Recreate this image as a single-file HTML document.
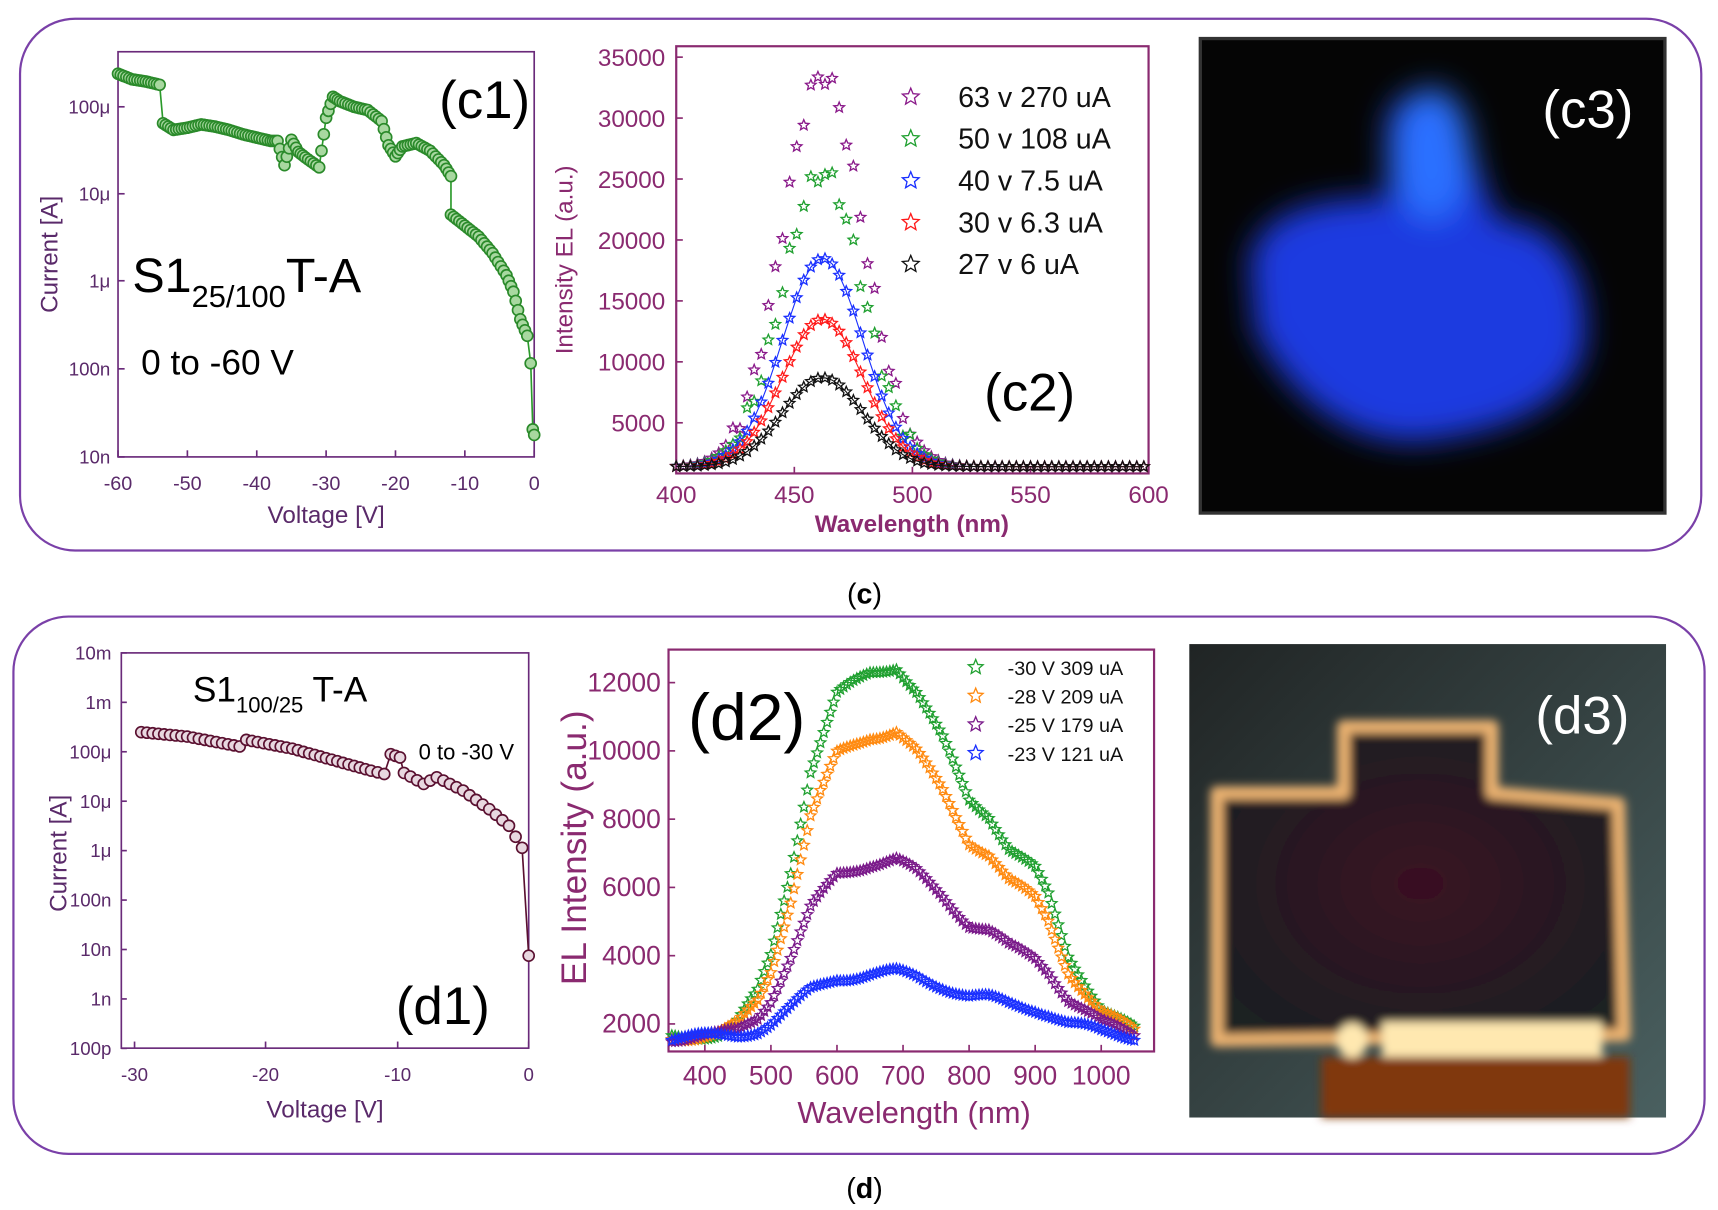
<!DOCTYPE html>
<html><head><meta charset="utf-8">
<style>
html,body{margin:0;padding:0;background:#fff;}
svg{display:block}
text{font-family:"Liberation Sans",sans-serif}
</style></head>
<body>
<svg id="s" width="1718" height="1210" viewBox="0 0 1560 1099" xmlns="http://www.w3.org/2000/svg">
<defs>
<filter id="bz" x="-20%" y="-20%" width="140%" height="140%"><feGaussianBlur stdDeviation="4"/></filter>
<filter id="bz2" x="-30%" y="-30%" width="160%" height="160%"><feGaussianBlur stdDeviation="14"/></filter>
<radialGradient id="dk" cx="0.5" cy="0.5" r="0.6">
<stop offset="0" stop-color="#3a1020"/><stop offset="1" stop-color="#1a2020"/>
</radialGradient>
<linearGradient id="d3bg" x1="0" y1="0" x2="1" y2="1">
<stop offset="0" stop-color="#202424"/><stop offset="1" stop-color="#4a6060"/>
</linearGradient>
</defs>
<rect x="18" y="17" width="1527" height="483" rx="50" fill="none" stroke="#7a40a8" stroke-width="2"/>
<rect x="12" y="560" width="1536" height="488" rx="50" fill="none" stroke="#7a40a8" stroke-width="2"/>
<text x="785" y="548" font-family="Liberation Serif" font-size="26" text-anchor="middle">(<tspan font-weight="bold">c</tspan>)</text>
<text x="785" y="1088" font-family="Liberation Serif" font-size="26" text-anchor="middle">(<tspan font-weight="bold">d</tspan>)</text>

<!-- c3 -->
<rect x="1090" y="35" width="422" height="431" fill="#050505" stroke="#333" stroke-width="3"/>
<g filter="url(#bz2)">
<path d="M1135,240 C1140,190 1200,180 1260,180 L1260,110 C1270,70 1320,80 1340,150 L1360,200 C1410,200 1440,240 1440,300 C1440,360 1380,390 1300,400 C1230,410 1170,360 1140,300 Z" fill="#1a3ae0"/>
<ellipse cx="1300" cy="140" rx="35" ry="60" fill="#2a70ff"/>
</g>
<text x="1442" y="116" font-family="Liberation Serif" font-size="48" fill="#fff" text-anchor="middle">(c3)</text>

<!-- d3 -->
<rect x="1080" y="585" width="433" height="430" fill="url(#d3bg)"/>
<g filter="url(#bz)">
<path d="M1105,720 L1220,720 L1220,660 L1355,660 L1355,720 L1470,730 L1475,940 L1105,945 Z" fill="url(#dk)" stroke="#e8b070" stroke-width="12" stroke-linejoin="round"/>
<rect x="1200" y="960" width="280" height="55" fill="#803810"/>
<rect x="1255" y="928" width="200" height="32" fill="#ffe8b0"/>
<ellipse cx="1228" cy="945" rx="14" ry="16" fill="#ffe8b0"/>
</g>
<text x="1437" y="666" font-family="Liberation Serif" font-size="48" fill="#fff" text-anchor="middle">(d3)</text>

<g id="g"></g>
</svg>
<script>
const g=document.getElementById('g');let h='';
function T(x,y,t,o){o=o||{};h+=`<text x="${x}" y="${y}" font-size="${o.s||20}" fill="${o.c||'#5a2a6a'}" text-anchor="${o.a||'middle'}" ${o.w?'font-weight="bold"':''} ${o.f?'font-family="'+o.f+'"':''} ${o.t?'transform="'+o.t+'"':''}>${t}</text>`;}
function L(x1,y1,x2,y2,c,w){h+=`<line x1="${x1}" y1="${y1}" x2="${x2}" y2="${y2}" stroke="${c}" stroke-width="${w||1.5}"/>`;}
function star(x,y,c,r){r=r||5;let p=[];for(let i=0;i<10;i++){let a=-Math.PI/2+i*Math.PI/5,rr=i%2?r*0.45:r;p.push((x+rr*Math.cos(a)).toFixed(1)+','+(y+rr*Math.sin(a)).toFixed(1));}h+=`<polygon points="${p.join(' ')}" fill="none" stroke="${c}" stroke-width="1.2"/>`;}
function circ(x,y,c,f){h+=`<circle cx="${x}" cy="${y}" r="5" fill="${f}" stroke="${c}" stroke-width="1.5"/>`;}
const P='#8a2a70',PA='#6a2a7a';
// ---- c1 ----
h+=`<rect x="107" y="47" width="378" height="368" fill="none" stroke="${PA}" stroke-width="1.5"/>`;
[['100μ',97],['10μ',176],['1μ',255],['100n',335],['10n',415]].forEach(([t,y])=>{T(100,y+6,t,{a:'end',s:17});L(107,y,113,y,PA);});
for(let i=0;i<=6;i++){let x=107+i*63;T(x,445,i==6?'0':(-60+i*10),{s:18});L(x,415,x,409,PA);}
T(296,475,'Voltage [V]',{s:22});T(52,231,'Current [A]',{s:22,t:'rotate(-90 52 231)'});
T(440,107,'(c1)',{s:48,c:'#000'});
h+=`<text x="120" y="265" font-size="44" fill="#000">S1<tspan font-size="28" dy="14">25/100</tspan><tspan dy="-14">T-A</tspan></text>`;
T(128,340,'0 to -60 V',{s:32,c:'#000',a:'start'});
const vx=v=>107+(v+60)*6.3;
let c1=[[-60,67],[-58,72],[-56,74],[-54,77],[-53.5,112],[-52,118],[-50,116],[-48,113],[-46,115],[-44,118],[-42,122],[-40,125],[-38,128],[-37,128],[-36,150],[-35,127],[-34,138],[-33,143],[-31,152],[-30,107],[-29,88],[-28,92],[-26,97],[-24,100],[-22,110],[-21,132],[-20,142],[-19,133],[-17,130],[-15,137],[-13,150],[-12,160],[-12,195],[-10,205],[-8,215],[-6,230],[-4,250],[-3,265],[-2,290],[-1,305],[-0.5,330],[-0.2,390],[0,415]];
let pts=[];for(let i=0;i<c1.length-1;i++){let[a,ya]=c1[i],[b,yb]=c1[i+1];let n=Math.max(1,Math.round(Math.abs(b-a)*2.5));for(let k=0;k<n;k++){pts.push([vx(a+(b-a)*k/n),ya+(yb-ya)*k/n]);}}
pts.push([vx(0),395]);
h+=`<polyline points="${pts.map(p=>p.join(',')).join(' ')}" fill="none" stroke="#2a9a2a" stroke-width="1.5"/>`;
pts.forEach(p=>circ(p[0].toFixed(1),p[1].toFixed(1),'#2a8a2a','#a8d8a0'));
// ---- c2 ----
h+=`<rect x="614" y="42" width="429" height="388" fill="none" stroke="${P}" stroke-width="2"/>`;
for(let v=5000;v<=35000;v+=5000){let y=384-(v-5000)*0.01107;T(604,y+8,v,{a:'end',s:22,c:P});L(614,y,620,y,P);}
for(let w=400;w<=600;w+=50){let x=614+(w-400)*2.145;T(x,457,w,{s:22,c:P});L(x,430,x,424,P);}
T(828,483,'Wavelength (nm)',{s:22,c:P,w:1});T(520,236,'Intensity EL (a.u.)',{s:22,c:P,t:'rotate(-90 520 236)'});
T(935,373,'(c2)',{s:48,c:'#000',f:'Liberation Serif'});
const ser=[[33500,'#8a1a8a','63 v 270 uA'],[25500,'#20a030','50 v 108 uA'],[18500,'#1a30ff','40 v 7.5 uA'],[13500,'#ff1a1a','30 v 6.3 uA'],[8700,'#111','27 v 6 uA']];
ser.forEach(([A,c,l],j)=>{let ly=88+j*38;star(827,ly,c,8);T(870,ly+9,l,{s:26,c:'#111',a:'start'});
 let pp=[];for(let w=400;w<=600;w+=3){let v=1400+(A-1400)*Math.exp(-((w-462)**2)/(2*17*17))+(Math.sin(w*7+j)*0.5)*(A>20000&&Math.abs(w-462)<40?1500:0);let x=614+(w-400)*2.145,y=384-(v-5000)*0.01107;pp.push([x,y]);}
 if(A<20000)h+=`<polyline points="${pp.map(p=>p.map(q=>q.toFixed(1)).join(',')).join(' ')}" fill="none" stroke="${c}" stroke-width="1"/>`;
 pp.forEach(p=>star(p[0],p[1],c,5));});
// ---- d1 ----
h+=`<rect x="110" y="593" width="370" height="359" fill="none" stroke="${PA}" stroke-width="1.5"/>`;
['10m','1m','100μ','10μ','1μ','100n','10n','1n','100p'].forEach((t,i)=>{let y=593+i*44.9;T(101,y+6,t,{a:'end',s:17});L(110,y,115,y,PA);});
[[-30,122],[-20,241],[-10,361],[0,480]].forEach(([t,x])=>{T(x,982,t,{s:17});L(x,952,x,946,PA);});
T(295,1015,'Voltage [V]',{s:22});T(60,775,'Current [A]',{s:22,t:'rotate(-90 60 775)'});
h+=`<text x="175" y="637" font-size="32" fill="#000">S1<tspan font-size="20" dy="10">100/25</tspan><tspan dy="-10"> T-A</tspan></text>`;
T(380,690,'0 to -30 V',{s:20,c:'#000',a:'start'});
T(402,930,'(d1)',{s:48,c:'#000',f:'Liberation Serif'});
const dx=v=>480+v*11.93;
let d1=[[-29.5,665],[-26,669],[-22,678],[-21.5,672],[-18,680],[-15,690],[-12,700],[-11,703],[-10.5,685],[-9.8,688],[-9.5,702],[-8,712],[-7,706],[-5,718],[-3,735],[-1.5,750],[-0.5,770],[0,790]];
pts=[];for(let i=0;i<d1.length-1;i++){let[a,ya]=d1[i],[b,yb]=d1[i+1];let n=Math.max(1,Math.round(Math.abs(b-a)*2.2));for(let k=0;k<n;k++)pts.push([dx(a+(b-a)*k/n),ya+(yb-ya)*k/n]);}
pts.push([dx(0),868]);
h+=`<polyline points="${pts.map(p=>p.map(q=>q.toFixed(1)).join(',')).join(' ')}" fill="none" stroke="#5a1030" stroke-width="1.5"/>`;
pts.forEach(p=>circ(p[0].toFixed(1),p[1].toFixed(1),'#5a1030','#e8d8e0'));
// ---- d2 ----
h+=`<rect x="607" y="590" width="441" height="365" fill="none" stroke="${P}" stroke-width="2"/>`;
for(let v=2000;v<=12000;v+=2000){let y=930-(v-2000)*0.031;T(600,y+8,v,{a:'end',s:24,c:P});L(607,y,613,y,P);}
for(let w=400;w<=1000;w+=100){let x=610+(w-350)*0.6;T(x,985,w,{s:24,c:P});L(x,955,x,949,P);}
T(830,1020,'Wavelength (nm)',{s:28,c:P});T(532,770,'EL Intensity (a.u.)',{s:32,c:P,t:'rotate(-90 532 770)'});
T(678,672,'(d2)',{s:60,c:'#000'});
const tb=[[350,0],[420,0.01],[450,0.04],[480,0.12],[500,0.22],[530,0.45],[560,0.72],[600,0.92],[650,0.98],[690,1.0],[720,0.93],[760,0.8],[800,0.64],[830,0.6],[860,0.51],[900,0.45],[920,0.38],[950,0.22],[1000,0.08],[1050,0.02]];
function shp(w){for(let i=0;i<tb.length-1;i++){if(w<=tb[i+1][0]){let t=(w-tb[i][0])/(tb[i+1][0]-tb[i][0]);return tb[i][1]+t*(tb[i+1][1]-tb[i][1]);}}return 0.02;}
const ds=[[10900,'#20a030','-30 V 309 uA'],[9000,'#ff8a10','-28 V 209 uA'],[5200,'#7a1a8a','-25 V 179 uA'],[1900,'#1a30ff','-23 V 121 uA']];
ds.forEach(([A,c,l],j)=>{let ly=606+j*26;star(886,ly,c,7);T(915,ly+7,l,{s:18,c:'#111',a:'start'});
 for(let w=350;w<=1050;w+=5){let v=1600+A*shp(w)+Math.sin(w*1.3+j)*120;let x=610+(w-350)*0.6,y=930-(v-2000)*0.031;star(x,y,c,5);}});
g.innerHTML=h;
</script>
</body></html>
